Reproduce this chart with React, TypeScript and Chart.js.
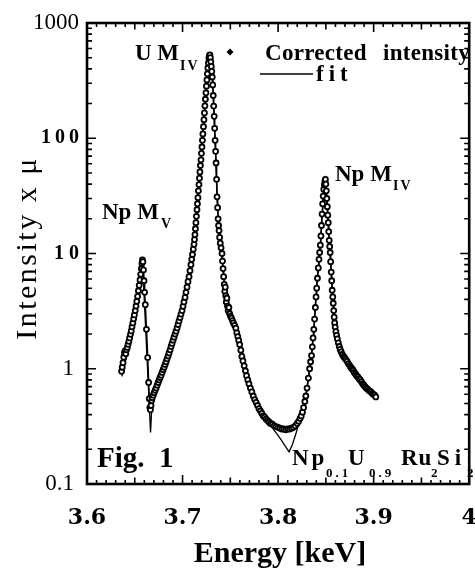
import { useEffect, useRef } from 'react';
import { Chart, registerables } from 'chart.js';

Chart.register(...registerables);

// ---- data ----
const energy = [
  3.6362, 3.6369, 3.6377, 3.6385, 3.6392, 3.6399, 3.6406, 3.6414, 3.6422, 3.643,
  3.6438, 3.6446, 3.6455, 3.6463, 3.6471, 3.648, 3.6488, 3.6496, 3.6505, 3.6513,
  3.6521, 3.653, 3.6538, 3.6546, 3.6555, 3.6562, 3.6569, 3.6575, 3.658, 3.6585,
  3.6591, 3.6597, 3.6603, 3.661, 3.6622, 3.6635, 3.6645, 3.6652, 3.6658, 3.6664,
  3.667, 3.6676,
  3.6683, 3.6693, 3.6703, 3.6713, 3.6723, 3.6734, 3.6745, 3.6755, 3.6765, 3.6776,
  3.6786, 3.6797, 3.6807, 3.6818, 3.6828, 3.6838, 3.6849, 3.6859, 3.687, 3.688,
  3.689, 3.6901, 3.6911, 3.6922, 3.6932, 3.6943, 3.6953, 3.6963, 3.6974, 3.6984,
  3.6995, 3.7005, 3.7015, 3.7026, 3.7036, 3.7047, 3.7057, 3.7068, 3.7078, 3.7088,
  3.7096, 3.7104, 3.7112, 3.712, 3.7125, 3.713, 3.7135, 3.714, 3.7145, 3.7151,
  3.7156, 3.7161, 3.7166, 3.7172, 3.7177, 3.7182, 3.7187, 3.7193, 3.7198, 3.7203,
  3.7208, 3.7213, 3.7219, 3.7224, 3.7229, 3.7234, 3.7239, 3.7245, 3.725, 3.7255,
  3.726, 3.7265, 3.7271, 3.7276, 3.7281, 3.7286,
  3.7291, 3.7296, 3.7301, 3.7306, 3.7311, 3.7316, 3.7321, 3.7326, 3.7331, 3.7336,
  3.7341, 3.7346, 3.7351, 3.7356, 3.7361, 3.7367, 3.7372, 3.7377, 3.7382, 3.7388,
  3.7395, 3.7403, 3.7413, 3.7418, 3.7424, 3.743, 3.7436, 3.7442, 3.7447, 3.7452,
  3.7458, 3.7464, 3.747, 3.7477, 3.7485, 3.7493, 3.7502, 3.7512, 3.7522, 3.7532,
  3.7545, 3.7558, 3.7568, 3.7578, 3.7588, 3.7598, 3.761, 3.7621, 3.7632, 3.7645,
  3.7658, 3.767, 3.7683, 3.7695, 3.771, 3.7725, 3.774, 3.7755, 3.777, 3.7785,
  3.78, 3.7815, 3.783, 3.7845, 3.786, 3.7875, 3.789, 3.7905, 3.792, 3.794,
  3.796, 3.798, 3.8, 3.802, 3.804, 3.806, 3.808, 3.81, 3.812, 3.814,
  3.816, 3.818, 3.82, 3.8215, 3.823, 3.8242, 3.8255, 3.8267, 3.828, 3.829,
  3.8303, 3.8317, 3.833, 3.834, 3.835, 3.8358, 3.8366, 3.8374, 3.8382, 3.839,
  3.8397, 3.8404, 3.8412, 3.8421, 3.8428, 3.8435, 3.8442, 3.8448, 3.8454, 3.846,
  3.8466, 3.8472, 3.8478, 3.8484, 3.849, 3.8495, 3.85, 3.8505, 3.851, 3.8515,
  3.852, 3.8525, 3.853, 3.8535, 3.854, 3.8545, 3.855, 3.8556, 3.8561, 3.8566,
  3.8572, 3.8577, 3.8582, 3.8587, 3.8592, 3.8597, 3.8605, 3.8612, 3.862, 3.863,
  3.864, 3.865, 3.866, 3.8672, 3.8685, 3.8697, 3.871, 3.8722, 3.8735, 3.8748,
  3.876, 3.8772, 3.8785, 3.8797, 3.881, 3.8822, 3.8835, 3.8847, 3.886, 3.8872,
  3.8885, 3.8897, 3.891, 3.8922, 3.8935, 3.8947, 3.896, 3.8972, 3.8985, 3.8997,
  3.901, 3.9023,
];

const intensity = [
  0.95, 1.03, 1.13, 1.26, 1.38, 1.43, 1.35, 1.46, 1.53, 1.63,
  1.73, 1.85, 1.99, 2.13, 2.31, 2.5, 2.71, 2.93, 3.2, 3.5,
  3.85, 4.25, 4.75, 5.3, 5.9, 6.6, 7.4, 8.2, 8.8, 8.5,
  7.2, 5.8, 4.6, 3.6, 2.2, 1.25, 0.76, 0.55, 0.46, 0.44,
  0.48, 0.53,
  0.56, 0.59, 0.62, 0.65, 0.68, 0.72, 0.76, 0.8, 0.84, 0.88,
  0.93, 0.98, 1.03, 1.09, 1.15, 1.22, 1.29, 1.37, 1.46, 1.56,
  1.66, 1.77, 1.88, 2.0, 2.12, 2.26, 2.42, 2.6, 2.78, 2.98,
  3.2, 3.48, 3.8, 4.16, 4.6, 5.1, 5.7, 6.3, 7.1, 8.0,
  8.9, 9.8, 10.9, 12.0, 13.2, 14.6, 16.4, 18.5, 21, 24,
  27, 30.5, 35, 39.6, 45, 51, 58, 65, 74, 84,
  96, 109, 126, 145, 166, 191, 218, 248, 283, 321,
  362, 407, 450, 497, 520, 528,
  500, 460, 420, 380, 340, 290, 235, 190, 155, 122,
  96, 77, 61, 44, 31, 25, 20, 17.5, 15.8, 13.8,
  12.3, 11.2, 10.0, 8.6, 7.4, 6.3, 5.4, 4.7, 5.1, 4.3,
  3.8, 4.1, 3.5, 3.2, 3.4, 3.0, 2.85, 2.75, 2.62, 2.5,
  2.38, 2.25, 2.05, 1.9, 1.76, 1.62, 1.45, 1.28, 1.17, 1.06,
  0.96, 0.87, 0.8, 0.74, 0.68, 0.63, 0.58, 0.54, 0.51, 0.48,
  0.45, 0.43, 0.41, 0.39, 0.38, 0.365, 0.355, 0.345, 0.335, 0.33,
  0.32, 0.315, 0.31, 0.305, 0.3, 0.3, 0.295, 0.3, 0.3, 0.305,
  0.31, 0.32, 0.335, 0.35, 0.37, 0.39, 0.42, 0.46, 0.52, 0.58,
  0.68, 0.83, 1.0, 1.15, 1.3, 1.55, 1.85, 2.2, 2.7, 3.4,
  4.2, 5.0, 6.1, 7.5, 8.9, 10.2, 11.8, 14.2, 17.5, 22,
  27, 31.5, 36, 39.5, 42.5, 44, 40, 35, 30, 25.5,
  21.5, 18.5, 15.5, 13, 11.5, 10.2, 8.5, 6.9, 5.8, 4.8,
  4.2, 3.7, 3.2, 2.8, 2.5, 2.3, 2.1, 1.95, 1.82, 1.68,
  1.56, 1.47, 1.4, 1.33, 1.28, 1.24, 1.2, 1.16, 1.11, 1.07,
  1.03, 1.0, 0.97, 0.93, 0.9, 0.87, 0.85, 0.82, 0.8, 0.77,
  0.74, 0.72, 0.7, 0.68, 0.67, 0.65, 0.64, 0.63, 0.61, 0.6,
  0.59, 0.57,
];

const fitEnergy = [
  3.6365, 3.64, 3.645, 3.65, 3.654, 3.6565, 3.658, 3.6665, 3.668, 3.672,
  3.678, 3.684, 3.69, 3.696, 3.7, 3.704, 3.708, 3.711, 3.714, 3.717,
  3.72, 3.7225, 3.725, 3.727, 3.7285, 3.73, 3.7315, 3.7335, 3.7355, 3.7375,
  3.74, 3.743, 3.746, 3.75, 3.755, 3.76, 3.765, 3.77, 3.775, 3.78,
  3.787, 3.795, 3.802, 3.808, 3.8115, 3.815, 3.819, 3.824, 3.829, 3.8317,
  3.835, 3.838, 3.84, 3.8421, 3.845, 3.8472, 3.8492, 3.8512, 3.8535, 3.8556,
  3.8577, 3.86, 3.8625, 3.866, 3.872, 3.878, 3.885, 3.891, 3.897, 3.9023,
];

const fitIntensity = [
  0.86, 1.15, 1.75, 2.85, 4.5, 6.8, 8.8, 0.28, 0.5, 0.66,
  0.9, 1.27, 1.8, 2.6, 3.4, 4.9, 7.8, 11.2, 20, 40,
  85, 160, 300, 460, 525, 430, 310, 125, 45, 19,
  11.5, 6.6, 4.4, 3.1, 2.35, 1.75, 1.15, 0.78, 0.6, 0.47,
  0.37, 0.3, 0.25, 0.21, 0.19, 0.22, 0.28, 0.4, 0.58, 0.82,
  1.3, 2.6, 4.8, 7.5, 15, 31, 44, 27, 13, 6.9,
  3.7, 2.2, 1.78, 1.4, 1.16, 0.97, 0.82, 0.71, 0.63, 0.57,
];

const xTickValues = [3.6, 3.7, 3.8, 3.9, 4.0];
const xTickLabels = ['3.6', '3.7', '3.8', '3.9', '4'];
const yTickValues = [0.1, 1, 10, 100, 1000];
const yTickLabels = ['0.1', '1', '10', '100', '1000'];

const seriesLabel = 'Corrected  intensity';
const fitLabel = 'fit';
const xTitle = 'Energy [keV]';
const yTitle = 'Intensity x \u03bc';

const SERIF = '"Liberation Serif", "Times New Roman", serif';
const DSERIF = '"DejaVu Serif", serif';

function txt(ctx: any, s: string, x: number, y: number, font: string, spacing = 0, align = 'left', baseline = 'alphabetic') {
  ctx.font = font;
  try { ctx.letterSpacing = spacing + 'px'; } catch (e) {}
  ctx.textAlign = align;
  ctx.textBaseline = baseline;
  ctx.fillStyle = '#000';
  ctx.fillText(s, x, y);
  try { ctx.letterSpacing = '0px'; } catch (e) {}
}

const framePlugin = {
  id: 'frame',
  afterDraw(chart: any) {
    const { ctx, chartArea } = chart;
    const xs = chart.scales.x;
    const ys = chart.scales.y;
    const { left, right, top, bottom } = chartArea;
    ctx.save();
    ctx.strokeStyle = '#000';
    ctx.fillStyle = '#000';
    // frame
    ctx.lineWidth = 2.6;
    ctx.strokeRect(left, top, right - left, bottom - top);
    // x ticks (top & bottom, inward)
    ctx.lineWidth = 1.6;
    for (let i = 0; i <= 40; i++) {
      const v = 3.6 + i * 0.01;
      const px = xs.getPixelForValue(v);
      const len = i % 10 === 0 ? 9 : i % 5 === 0 ? 6.5 : 4;
      ctx.beginPath();
      ctx.moveTo(px, bottom);
      ctx.lineTo(px, bottom - len);
      ctx.moveTo(px, top);
      ctx.lineTo(px, top + len);
      ctx.stroke();
    }
    // y ticks (left & right, inward)
    for (let d = 0.1; d < 1000; d *= 10) {
      for (let m = 1; m <= 9; m++) {
        const v = m * d;
        const py = ys.getPixelForValue(v);
        const len = m === 1 ? 9 : 5;
        ctx.beginPath();
        ctx.moveTo(left, py);
        ctx.lineTo(left + len, py);
        ctx.moveTo(right, py);
        ctx.lineTo(right - len, py);
        ctx.stroke();
      }
    }
    // x tick labels
    xTickValues.forEach((v, i) => {
      txt(ctx, xTickLabels[i], xs.getPixelForValue(v), 518, 'bold 22px ' + DSERIF, 0, 'center', 'middle');
    });
    // y tick labels
    yTickValues.forEach((v, i) => {
      const py = ys.getPixelForValue(v);
      const lab = yTickLabels[i];
      if (lab === '100') txt(ctx, lab, 79 + 4, py, 'bold 20px ' + SERIF, 4, 'right', 'middle');
      else if (lab === '10') txt(ctx, lab, 79 + 5, py, 'bold 20px ' + SERIF, 5, 'right', 'middle');
      else if (lab === '1000') txt(ctx, lab, 79, py, '23px ' + SERIF, 0, 'right', 'middle');
      else txt(ctx, lab, 74, py, '23px ' + SERIF, 0, 'right', 'middle');
    });
    // axis titles
    txt(ctx, xTitle, 280, 562, 'bold 30px ' + SERIF, 0, 'center');
    ctx.save();
    ctx.translate(36, 248);
    ctx.rotate(-Math.PI / 2);
    txt(ctx, yTitle, 0, 0, '30px ' + SERIF, 2.5, 'center');
    ctx.restore();

    // legend
    ctx.beginPath();
    ctx.moveTo(230, 48.5);
    ctx.lineTo(233.5, 52);
    ctx.lineTo(230, 55.5);
    ctx.lineTo(226.5, 52);
    ctx.closePath();
    ctx.fill();
    const [w1, w2] = seriesLabel.split('  ');
    txt(ctx, w1, 265, 60, 'bold 23px ' + SERIF, 0.3);
    txt(ctx, w2, 383, 60, 'bold 23px ' + SERIF, 0.3);
    ctx.lineWidth = 1.6;
    ctx.beginPath();
    ctx.moveTo(260, 74);
    ctx.lineTo(313, 74);
    ctx.stroke();
    txt(ctx, fitLabel, 316, 81, 'bold 23px ' + SERIF, 5);

    // peak annotations
    const big = 'bold 23px ' + SERIF;
    const sub = 'bold 14px ' + SERIF;
    txt(ctx, 'U M', 135, 60, big);
    txt(ctx, 'IV', 180, 70, sub, 2);
    txt(ctx, 'Np M', 102, 219, big);
    txt(ctx, 'V', 161, 228, sub);
    txt(ctx, 'Np M', 335, 181, big);
    txt(ctx, 'IV', 393, 190, sub, 2);

    // figure label & compound
    txt(ctx, 'Fig.  1', 97, 467, 'bold 29px ' + SERIF);
    const cf = 'bold 23px ' + SERIF;
    const sf = 'bold 13px ' + SERIF;
    txt(ctx, 'Np', 292, 465, cf, 3);
    txt(ctx, '0.1', 326, 477, sf, 3);
    txt(ctx, 'U', 348, 465, cf);
    txt(ctx, '0.9', 369, 477, sf, 3);
    txt(ctx, 'Ru', 401, 465, cf, 1);
    txt(ctx, '2', 431, 477, sf);
    txt(ctx, 'Si', 437, 465, cf, 5);
    txt(ctx, '2', 467, 477, sf);
    ctx.restore();
  },
};

export default function App() {
  const ref = useRef<HTMLCanvasElement | null>(null);
  useEffect(() => {
    if (!ref.current) return;
    const chart = new Chart(ref.current, {
      type: 'scatter',
      data: {
        datasets: [
          {
            label: 'Corrected intensity',
            data: energy.map((x, i) => ({ x, y: intensity[i] })),
            showLine: true,
            borderColor: '#000',
            borderWidth: 1.6,
            pointRadius: 2.5,
            pointBorderWidth: 1.8,
            pointBackgroundColor: '#fff',
            pointBorderColor: '#000',
          },
          {
            label: 'fit',
            data: fitEnergy.map((x, i) => ({ x, y: fitIntensity[i] })),
            showLine: true,
            borderColor: '#000',
            borderWidth: 1.3,
            pointRadius: 0,
          },
        ],
      },
      options: {
        responsive: false,
        animation: false,
        devicePixelRatio: 1,
        events: [],
        layout: { padding: { left: 87, right: 4, top: 23, bottom: 85 } },
        plugins: { legend: { display: false }, tooltip: { enabled: false } },
        scales: {
          x: { type: 'linear', min: 3.6, max: 4.0, display: false },
          y: { type: 'logarithmic', min: 0.1, max: 1000, display: false },
        },
      } as any,
      plugins: [framePlugin],
    });
    return () => chart.destroy();
  }, []);
  return (
    <div style={{ position: 'fixed', left: 0, top: 0, width: 475, height: 569, background: '#fff' }}>
      <canvas ref={ref} width={475} height={569} style={{ display: 'block' }} />
    </div>
  );
}
